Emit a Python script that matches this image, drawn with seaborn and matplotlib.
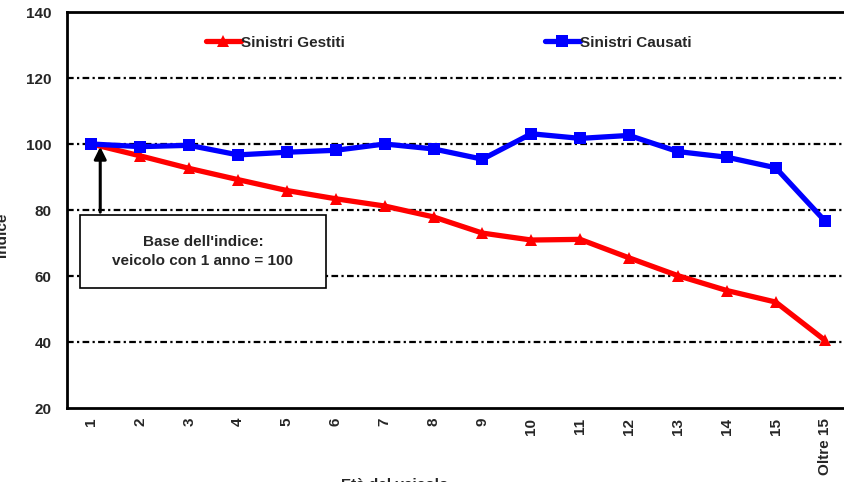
import numpy as np
import pandas as pd
import matplotlib
matplotlib.use("Agg")
import matplotlib.pyplot as plt
from matplotlib.patches import Rectangle
import seaborn as sns

# Vehicle age classes and index values (age 1 = 100)
categorie = ["1", "2", "3", "4", "5", "6", "7", "8", "9", "10",
             "11", "12", "13", "14", "15", "Oltre 15"]
sinistri_gestiti = [100, 96.4, 92.6, 89.2, 85.9, 83.4, 81.2, 77.9,
                    73.0, 70.9, 71.1, 65.5, 60.1, 55.6, 52.1, 40.6]
sinistri_causati = [100, 99.2, 99.6, 96.7, 97.5, 98.1, 100, 98.5,
                    95.4, 103.1, 101.7, 102.6, 97.7, 96.0, 92.8, 76.8]
y_ticks = [20, 40, 60, 80, 100, 120, 140]

sns.set_theme(style="white")
plt.rcParams["font.family"] = ["Liberation Sans", "DejaVu Sans"]
plt.rcParams["font.weight"] = "bold"

FS = 11

pos = np.arange(len(categorie))
df = pd.DataFrame({
    "pos": np.concatenate([pos, pos]),
    "valore": sinistri_gestiti + sinistri_causati,
    "serie": ["Sinistri Gestiti"] * len(pos) + ["Sinistri Causati"] * len(pos),
})

fig = plt.figure(figsize=(8.45, 4.82), dpi=100)
ax = fig.add_axes([67 / 845, 1 - 408 / 482, (849 - 67) / 845, (408 - 12) / 482])

sns.lineplot(data=df, x="pos", y="valore", hue="serie", style="serie",
             palette={"Sinistri Gestiti": "#ff0000", "Sinistri Causati": "#0000ff"},
             markers={"Sinistri Gestiti": "^", "Sinistri Causati": "s"},
             dashes=False, linewidth=3.8, markersize=8.5, markeredgewidth=0,
             ax=ax, legend=True, zorder=3)

ax.set_xlim(-0.5, len(categorie) - 0.5)
ax.set_ylim(20, 140)
ax.set_yticks(y_ticks)
ax.set_xticks(pos)
ax.set_xticklabels(categorie, rotation=90, fontsize=FS, fontweight="bold")
ax.set_yticklabels([str(v) for v in y_ticks], fontsize=FS, fontweight="bold")
ax.tick_params(axis="y", length=0, pad=11)
ax.tick_params(axis="x", length=0, pad=7)
ax.set_xlabel("")
ax.set_ylabel("")

for v in [40, 60, 80, 100, 120]:
    ax.axhline(v, color="black", linewidth=1.6,
               linestyle=(0, (3, 1.5, 1, 1.5)), zorder=1)

for side in ["left", "top", "bottom", "right"]:
    ax.spines[side].set_color("black")
    ax.spines[side].set_linewidth(2)

# Legend without frame, two columns
ax.legend(loc="upper left", bbox_to_anchor=(198 / 845, 1 - 28 / 482),
          bbox_transform=fig.transFigure, ncol=2, frameon=False,
          borderpad=0, handlelength=2.3, handletextpad=0.0,
          columnspacing=13.1, prop={"size": FS, "weight": "bold"})

# Note box with arrow pointing to the base point
ax.add_patch(Rectangle((-0.225, 56.4), 5.02, 22.1, facecolor="white",
                       edgecolor="black", linewidth=1.2, zorder=4))
ax.text(2.28, 67.4, "Base dell'indice:\nveicolo con 1 anno = 100",
        ha="center", va="center", fontsize=FS, fontweight="bold",
        linespacing=1.45, zorder=5)
ax.annotate("", xy=(0.18, 100), xytext=(0.18, 78.5),
            arrowprops=dict(arrowstyle="-|>,head_length=0.6,head_width=0.3",
                            color="black", linewidth=2.2),
            zorder=5)

fig.text(2 / 845, 1 - 235 / 482, "Indice", rotation=90, ha="center",
         va="center", fontsize=FS, fontweight="bold")
fig.text(395 / 845, 1 - 478 / 482, "Età del veicolo", ha="center",
         va="top", fontsize=FS, fontweight="bold")

fig.savefig("out.png", dpi=100)
